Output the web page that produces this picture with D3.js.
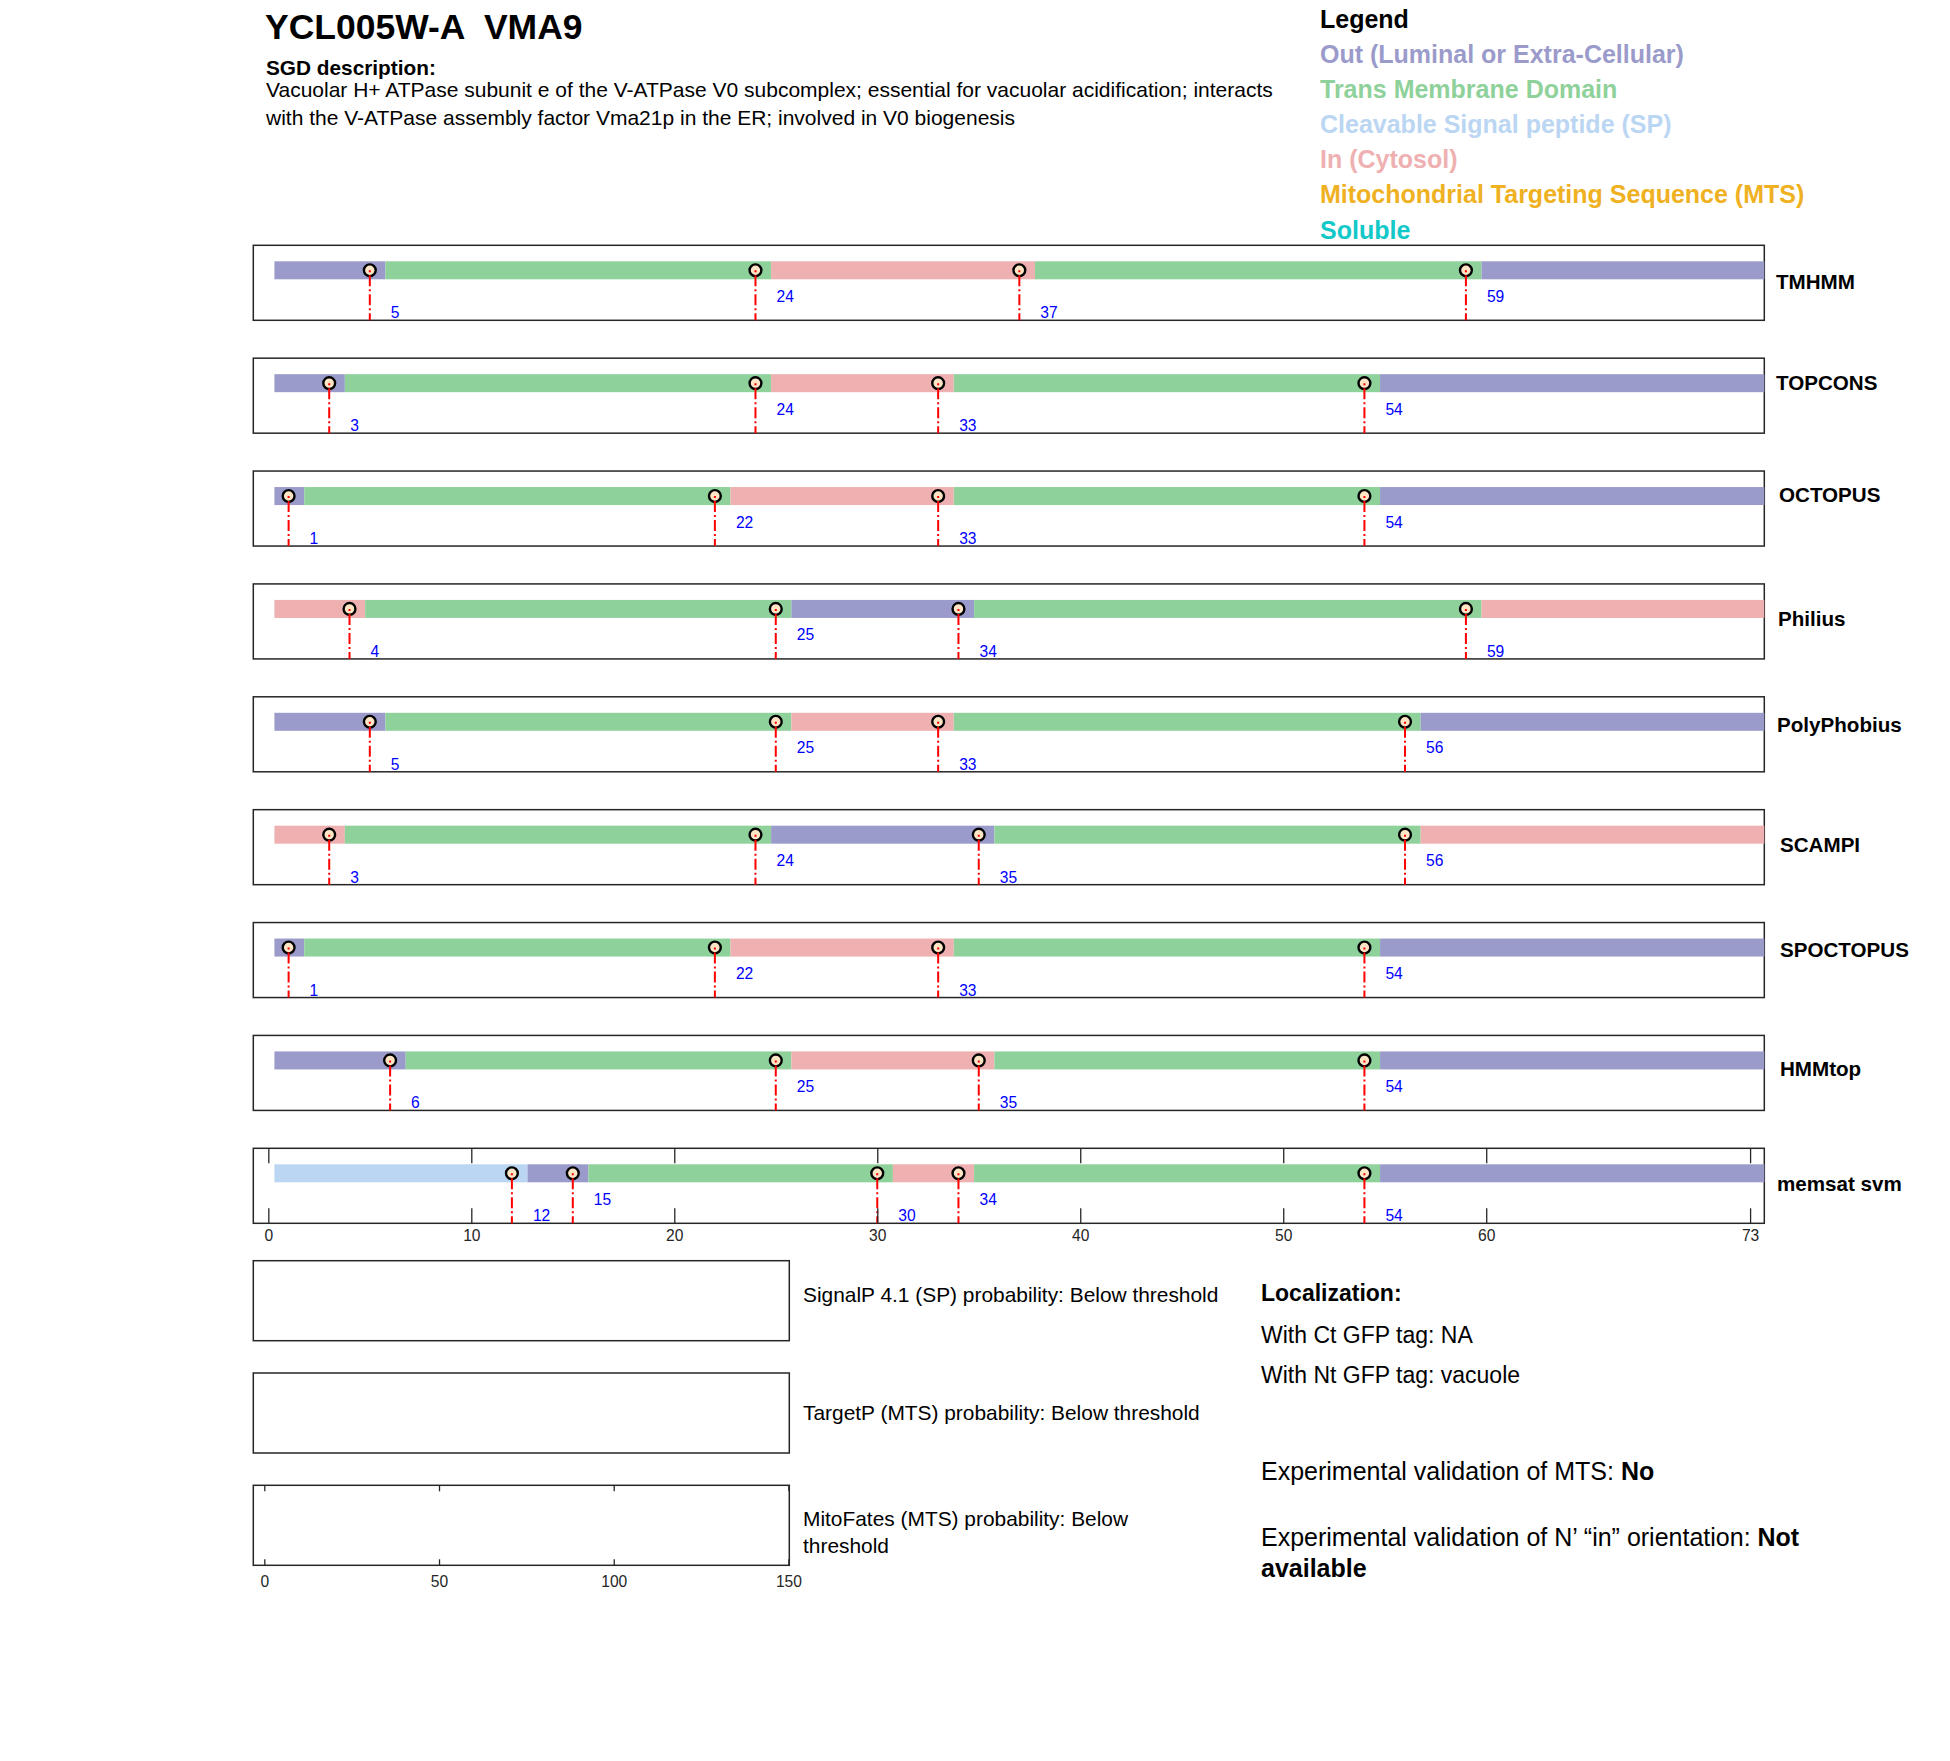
<!DOCTYPE html>
<html>
<head>
<meta charset="utf-8">
<script src="https://cdn.jsdelivr.net/npm/d3@7"></script>
<style>
  body { margin: 0; background: #fff; }
  svg { display: block; font-family: "Liberation Sans", Arial, sans-serif; }
</style>
</head>
<body>
<div id="chart"></div>
<script>
// Topology predictions for one protein, one box per predictor.

const geneTitle = "YCL005W-A  VMA9";
const descriptionLines = [
  "Vacuolar H+ ATPase subunit e of the V-ATPase V0 subcomplex; essential for vacuolar acidification; interacts",
  "with the V-ATPase assembly factor Vma21p in the ER; involved in V0 biogenesis"
];

const legendKeys = ["out", "tm", "sp", "in", "mts", "soluble"];
const legendLabels = [
  "Out (Luminal or Extra-Cellular)",
  "Trans Membrane Domain",
  "Cleavable Signal peptide (SP)",
  "In (Cytosol)",
  "Mitochondrial Targeting Sequence (MTS)",
  "Soluble"
];
const legendColors = ["#9b9bcb", "#8fd19a", "#bbd6f2", "#eeb0b0", "#efb122", "#13c8c8"];

const seqLength = 73;
const trackNames = ["TMHMM", "TOPCONS", "OCTOPUS", "Philius", "PolyPhobius", "SCAMPI", "SPOCTOPUS", "HMMtop", "memsat svm"];
const trackBoundaries = [
  [5, 24, 37, 59],
  [3, 24, 33, 54],
  [1, 22, 33, 54],
  [4, 25, 34, 59],
  [5, 25, 33, 56],
  [3, 24, 35, 56],
  [1, 22, 33, 54],
  [6, 25, 35, 54],
  [12, 15, 30, 34, 54]
];
const trackTopology = [
  ["out", "tm", "in", "tm", "out"],
  ["out", "tm", "in", "tm", "out"],
  ["out", "tm", "in", "tm", "out"],
  ["in", "tm", "out", "tm", "in"],
  ["out", "tm", "in", "tm", "out"],
  ["in", "tm", "out", "tm", "in"],
  ["out", "tm", "in", "tm", "out"],
  ["out", "tm", "in", "tm", "out"],
  ["sp", "out", "tm", "in", "tm", "out"]
];
// 1 = number sits on the lower row, 0 = upper row
const labelRows = [
  [1, 0, 1, 0],
  [1, 0, 1, 0],
  [1, 0, 1, 0],
  [1, 0, 1, 1],
  [1, 0, 1, 0],
  [1, 0, 1, 0],
  [1, 0, 1, 0],
  [1, 0, 1, 0],
  [1, 0, 1, 0, 1]
];
const residueTicks = [0, 10, 20, 30, 40, 50, 60, 73];

const probLabels = [
  ["SignalP 4.1 (SP) probability: Below threshold"],
  ["TargetP (MTS) probability: Below threshold"],
  ["MitoFates (MTS) probability: Below", "threshold"]
];
const probTicks = [0, 50, 100, 150];

const localization = ["With Ct GFP tag: NA", "With Nt GFP tag: vacuole"];
const mtsValidation = "No";

// ---- layout ----
const width = 1950;
const height = 1761;
const boxH = 75;
const probBoxH = 80;
const axisColor = "#262626";
const nameNudge = [[-1, 6.5], [-1, -6], [2, -6.5], [1, 5], [0, -2.5], [3, 5], [3, -3.5], [3, 3], [0, 5.2]];
const probTextOffset = [[41.3], [47], [40.7, 67.7]];

const color = d3.scaleOrdinal().domain(legendKeys).range(legendColors);

const svg = d3.select("#chart")
  .append("svg")
  .attr("width", width)
  .attr("height", height)
  .attr("viewBox", `0 0 ${width} ${height}`);

svg.append("rect").attr("width", width).attr("height", height).attr("fill", "#fff");

// header
svg.append("text")
  .attr("x", 265)
  .attr("y", 38.5)
  .attr("font-size", 35.5)
  .attr("font-weight", "bold")
  .attr("xml:space", "preserve")
  .style("white-space", "pre")
  .text(geneTitle);

svg.append("text")
  .attr("x", 266)
  .attr("y", 75)
  .attr("font-size", 20.8)
  .attr("font-weight", "bold")
  .text("SGD description:");

svg.selectAll(".desc")
  .data(descriptionLines)
  .join("text")
  .attr("class", "desc")
  .attr("x", 266)
  .attr("y", (d, i) => 97 + i * 27.5)
  .attr("font-size", 21)
  .text(d => d);

// legend
svg.append("text")
  .attr("x", 1320)
  .attr("y", 28)
  .attr("font-size", 25)
  .attr("font-weight", "bold")
  .text("Legend");

svg.selectAll(".legend-item")
  .data(legendLabels)
  .join("text")
  .attr("class", "legend-item")
  .attr("x", 1320)
  .attr("y", (d, i) => 63 + i * 35.1)
  .attr("font-size", 25)
  .attr("font-weight", "bold")
  .attr("fill", (d, i) => color(legendKeys[i]))
  .text(d => d);

// tracks
const x = d3.scaleLinear()
  .domain([-0.74, seqLength + 0.7])
  .range([253.3, 1764.3]);

const trackY = d3.scaleLinear()
  .domain([0, trackNames.length - 1])
  .range([245.3, 1148.3]);

const [x0, x1] = x.range();

trackNames.forEach((name, t) => {
  const top = trackY(t);
  const g = svg.append("g").attr("class", "track");
  const bounds = trackBoundaries[t];
  const edges = [0.3, ...bounds.map(b => b + 0.77), x.domain()[1]];
  const segments = trackTopology[t].map((type, i) => ({ type, start: edges[i], end: edges[i + 1] }));

  g.append("rect")
    .attr("x", x0)
    .attr("y", top)
    .attr("width", x1 - x0)
    .attr("height", boxH)
    .attr("fill", "none")
    .attr("stroke", axisColor)
    .attr("stroke-width", 1.5);

  g.selectAll(".seg")
    .data(segments)
    .join("rect")
    .attr("class", "seg")
    .attr("x", d => x(d.start))
    .attr("y", top + 16)
    .attr("width", d => x(d.end) - x(d.start))
    .attr("height", 18)
    .attr("fill", d => color(d.type));

  g.selectAll(".mark")
    .data(bounds)
    .join("circle")
    .attr("class", "mark")
    .attr("cx", d => x(d))
    .attr("cy", top + 25)
    .attr("r", 5.9)
    .attr("fill", "#fde5c5")
    .attr("stroke", "#000")
    .attr("stroke-width", 2.4);

  g.selectAll(".cut")
    .data(bounds)
    .join("line")
    .attr("class", "cut")
    .attr("x1", d => x(d))
    .attr("x2", d => x(d))
    .attr("y1", top + 25)
    .attr("y2", top + boxH)
    .attr("stroke", "#ff0000")
    .attr("stroke-width", 2)
    .attr("stroke-dasharray", "11,3,2,3")
    .attr("stroke-dashoffset", 14);

  g.selectAll(".num")
    .data(bounds)
    .join("text")
    .attr("class", "num")
    .attr("x", d => x(d) + 21)
    .attr("y", (d, i) => top + (labelRows[t][i] ? 73 : 56.5))
    .attr("font-size", 15.6)
    .attr("fill", "#0000ff")
    .text(d => d);

  g.append("text")
    .attr("x", 1777 + nameNudge[t][0])
    .attr("y", top + boxH / 2 + nameNudge[t][1])
    .attr("font-size", 20.6)
    .attr("font-weight", "bold")
    .text(name);
});

function styleAxis(g, fontSize) {
  g.attr("font-family", null).attr("font-size", fontSize);
  g.select(".domain").remove();
  g.selectAll(".tick line").attr("stroke", axisColor).attr("stroke-width", 1.3);
  g.selectAll(".tick text").attr("fill", axisColor);
}

const lastTop = trackY(trackNames.length - 1);

svg.append("g")
  .attr("transform", `translate(0, ${lastTop + boxH})`)
  .call(d3.axisBottom(x).tickValues(residueTicks).tickSize(-15).tickPadding(7))
  .call(g => styleAxis(g, 15.6));

svg.append("g")
  .attr("transform", `translate(0, ${lastTop})`)
  .call(d3.axisTop(x).tickValues(residueTicks).tickSize(-15).tickFormat(""))
  .call(g => styleAxis(g, 15.6));

// probability boxes
const xProb = d3.scaleLinear()
  .domain([-3.15, 150.25])
  .range([253.3, 789.3]);

const probY = d3.scaleLinear()
  .domain([0, probLabels.length - 1])
  .range([1260.7, 1485.3]);

probLabels.forEach((lines, p) => {
  const top = probY(p);
  svg.append("rect")
    .attr("x", xProb.range()[0])
    .attr("y", top)
    .attr("width", xProb.range()[1] - xProb.range()[0])
    .attr("height", probBoxH)
    .attr("fill", "none")
    .attr("stroke", axisColor)
    .attr("stroke-width", 1.5);

  svg.selectAll(`.prob-text-${p}`)
    .data(lines)
    .join("text")
    .attr("class", `prob-text-${p}`)
    .attr("x", 803)
    .attr("y", (d, i) => top + probTextOffset[p][i])
    .attr("font-size", 20.9)
    .text(d => d);
});

const lastProbTop = probY(probLabels.length - 1);

svg.append("g")
  .attr("transform", `translate(0, ${lastProbTop + probBoxH})`)
  .call(d3.axisBottom(xProb).tickValues(probTicks).tickSize(-6).tickPadding(10.9))
  .call(g => styleAxis(g, 15.6));

svg.append("g")
  .attr("transform", `translate(0, ${lastProbTop})`)
  .call(d3.axisTop(xProb).tickValues(probTicks).tickSize(-6).tickFormat(""))
  .call(g => styleAxis(g, 15.6));

// localization notes
const notes = svg.append("g").attr("transform", "translate(1261, 0)");

notes.append("text")
  .attr("y", 1301)
  .attr("font-size", 23)
  .attr("font-weight", "bold")
  .text("Localization:");

notes.selectAll(".loc")
  .data(localization)
  .join("text")
  .attr("class", "loc")
  .attr("y", (d, i) => 1343 + i * 40)
  .attr("font-size", 23)
  .text(d => d);

const mts = notes.append("text").attr("y", 1480).attr("font-size", 25);
mts.append("tspan").text("Experimental validation of MTS: ");
mts.append("tspan").attr("font-weight", "bold").text(mtsValidation);

const orient = notes.append("text").attr("y", 1546).attr("font-size", 25);
orient.append("tspan").text("Experimental validation of N\u2019 \u201cin\u201d orientation: ");
orient.append("tspan").attr("font-weight", "bold").text("Not");

notes.append("text")
  .attr("y", 1577)
  .attr("font-size", 25)
  .attr("font-weight", "bold")
  .text("available");
</script>
</body>
</html>
